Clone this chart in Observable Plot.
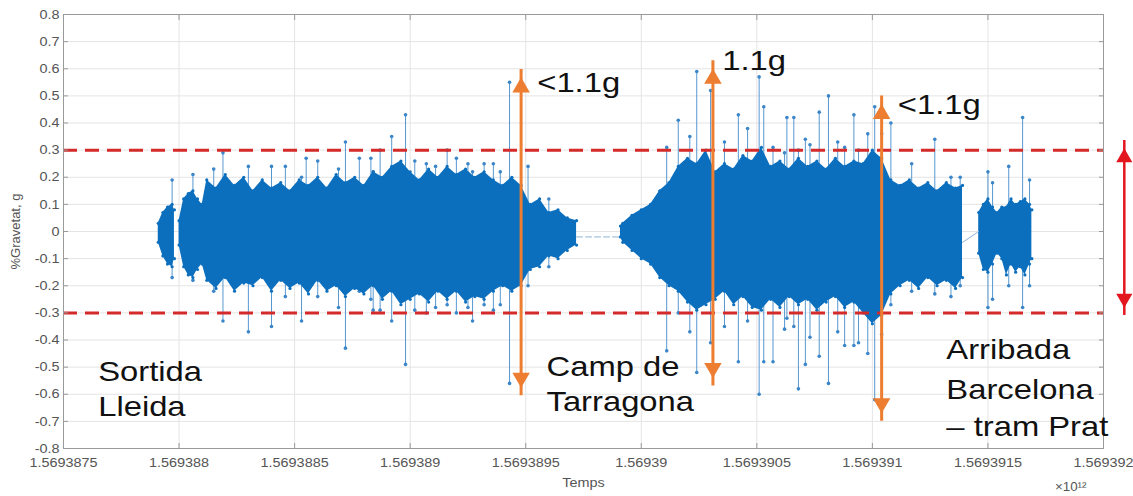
<!DOCTYPE html>
<html><head><meta charset="utf-8">
<script src="https://cdn.jsdelivr.net/npm/d3@7"></script>
<script src="https://cdn.jsdelivr.net/npm/@observablehq/plot@0.6"></script>
<style>
html,body{margin:0;padding:0;background:#fff;}
#chart svg{display:block;}
</style></head><body><div id="chart"></div>
<script>
// ---- axis ticks ----
const xTicks = [1.5693875, 1.569388, 1.5693885, 1.569389, 1.5693895, 1.56939, 1.5693905, 1.569391, 1.5693915, 1.569392];
const xTickLabels = ["1.5693875", "1.569388", "1.5693885", "1.569389", "1.5693895", "1.56939", "1.5693905", "1.569391", "1.5693915", "1.569392"];
const yTicks = [-0.8, -0.7, -0.6, -0.5, -0.4, -0.3, -0.2, -0.1, 0, 0.1, 0.2, 0.3, 0.4, 0.5, 0.6, 0.7, 0.8];
const yTickLabels = ["-0.8", "-0.7", "-0.6", "-0.5", "-0.4", "-0.3", "-0.2", "-0.1", "0", "0.1", "0.2", "0.3", "0.4", "0.5", "0.6", "0.7", "0.8"];

// ---- signal envelope (dense body), time in x10^12 ms ----
const seg1Time = [1.56938791, 1.56938793, 1.56938795, 1.56938797, 1.56938798];
const seg1High = [0.03, 0.07, 0.09, 0.10, 0.08];
const seg1Low  = [-0.04, -0.09, -0.12, -0.13, -0.10];

const seg2Time = [1.56938800, 1.56938802, 1.56938804, 1.56938806, 1.56938808, 1.56938810, 1.56938812,
  1.56938816, 1.56938820, 1.56938824, 1.56938828, 1.56938832, 1.56938836, 1.56938840, 1.56938844, 1.56938848, 1.56938852,
  1.56938856, 1.56938860, 1.56938864, 1.56938868, 1.56938872, 1.56938876, 1.56938880, 1.56938884, 1.56938888, 1.56938892,
  1.56938896, 1.56938900, 1.56938904, 1.56938908, 1.56938912, 1.56938916, 1.56938920, 1.56938924, 1.56938928, 1.56938932,
  1.56938936, 1.56938940, 1.56938944, 1.56938948, 1.56938952, 1.56938956, 1.56938960, 1.56938964, 1.56938968, 1.56938972];
const seg2High = [0.04, 0.12, 0.14, 0.15, 0.12, 0.10, 0.19,
  0.16, 0.21, 0.17, 0.20, 0.15, 0.19, 0.16, 0.18, 0.15, 0.19,
  0.17, 0.20, 0.16, 0.21, 0.18, 0.20, 0.17, 0.22, 0.20, 0.24,
  0.26, 0.22, 0.19, 0.23, 0.20, 0.24, 0.21, 0.23, 0.20, 0.22,
  0.19, 0.17, 0.20, 0.17, 0.10, 0.12, 0.07, 0.08, 0.05, 0.04];
const seg2Low = [-0.05, -0.13, -0.16, -0.17, -0.14, -0.12, -0.18,
  -0.21, -0.17, -0.22, -0.19, -0.20, -0.17, -0.22, -0.18, -0.21, -0.19,
  -0.23, -0.18, -0.22, -0.20, -0.24, -0.21, -0.23, -0.20, -0.25, -0.22,
  -0.27, -0.25, -0.23, -0.26, -0.22, -0.25, -0.22, -0.26, -0.24, -0.25,
  -0.22, -0.20, -0.22, -0.20, -0.14, -0.13, -0.09, -0.10, -0.07, -0.05];

const seg3Time = [1.56938991, 1.56938992, 1.56938996, 1.56939000, 1.56939004, 1.56939008, 1.56939012, 1.56939016, 1.56939020,
  1.56939024, 1.56939028, 1.56939032, 1.56939036, 1.56939040, 1.56939044, 1.56939048, 1.56939052, 1.56939056, 1.56939060,
  1.56939064, 1.56939068, 1.56939072, 1.56939076, 1.56939080, 1.56939084, 1.56939088, 1.56939092, 1.56939096, 1.56939100,
  1.56939104, 1.56939108, 1.56939112, 1.56939116, 1.56939120, 1.56939124, 1.56939128, 1.56939132, 1.56939136, 1.56939139];
const seg3High = [0.02, 0.03, 0.06, 0.08, 0.10, 0.15, 0.18, 0.24, 0.27,
  0.25, 0.30, 0.22, 0.25, 0.23, 0.28, 0.26, 0.31, 0.24, 0.26,
  0.23, 0.27, 0.24, 0.26, 0.23, 0.27, 0.24, 0.26, 0.25, 0.30,
  0.27, 0.19, 0.17, 0.19, 0.16, 0.18, 0.15, 0.18, 0.16, 0.17];
const seg3Low = [-0.02, -0.04, -0.07, -0.10, -0.12, -0.17, -0.20, -0.22, -0.26,
  -0.29, -0.27, -0.25, -0.22, -0.27, -0.24, -0.28, -0.29, -0.25, -0.28,
  -0.24, -0.27, -0.25, -0.29, -0.26, -0.24, -0.28, -0.26, -0.30, -0.34,
  -0.31, -0.23, -0.20, -0.18, -0.21, -0.17, -0.20, -0.18, -0.21, -0.17];

const seg4Time = [1.56939146, 1.56939148, 1.56939150, 1.56939152, 1.56939154, 1.56939156, 1.56939158,
  1.56939160, 1.56939162, 1.56939164, 1.56939166, 1.56939168, 1.56939169];
const seg4High = [0.07, 0.10, 0.12, 0.09, 0.07, 0.09, 0.09, 0.12, 0.10, 0.11, 0.12, 0.10, 0.08];
const seg4Low  = [-0.08, -0.14, -0.15, -0.12, -0.08, -0.10, -0.16, -0.12, -0.15, -0.13, -0.16, -0.12, -0.10];

// ---- connecting segments across data gaps ----
const bridge1Time = [1.56938972, 1.56938991];
const bridge1Value = [-0.02, -0.02];
const bridge2Time = [1.56939139, 1.56939146];
const bridge2Value = [-0.04, 0.0];

// ---- isolated peaks (max / min) ----
const spikeTime = [1.56938797, 1.56938806, 1.56938815, 1.56938819, 1.56938830, 1.56938840, 1.56938846, 1.56938853, 1.56938855,
  1.56938860, 1.56938869, 1.56938872, 1.56938878, 1.56938883, 1.56938884, 1.56938887, 1.56938892, 1.56938898, 1.56938902,
  1.56938907, 1.56938911, 1.56938916, 1.56938920, 1.56938925, 1.56938927, 1.56938932, 1.56938936, 1.56938939, 1.56938943,
  1.56938951, 1.56938960,
  1.56939011, 1.56939016, 1.56939021, 1.56939024, 1.56939030, 1.56939036, 1.56939042, 1.56939046, 1.56939051, 1.56939053,
  1.56939057, 1.56939062, 1.56939063, 1.56939066, 1.56939068, 1.56939071, 1.56939073, 1.56939077, 1.56939081, 1.56939085,
  1.56939088, 1.56939092, 1.56939094, 1.56939098, 1.56939101, 1.56939104, 1.56939108, 1.56939117, 1.56939127, 1.56939134,
  1.56939138,
  1.56939150, 1.56939152, 1.56939159, 1.56939165, 1.56939168];
const spikeHigh = [0.19, 0.21, 0.23, 0.29, 0.24, 0.24, 0.24, 0.20, 0.27,
  0.26, 0.23, 0.33, 0.27, 0.27, 0.22, 0.30, 0.35, 0.43, 0.26,
  0.25, 0.24, 0.30, 0.27, 0.25, 0.22, 0.25, 0.25, 0.22, 0.55,
  0.24, 0.12,
  0.31, 0.41, 0.35, 0.59, 0.52, 0.33, 0.43, 0.38, 0.57, 0.46,
  0.31, 0.29, 0.42, 0.42, 0.30, 0.34, 0.32, 0.44, 0.50, 0.33,
  0.31, 0.43, 0.30, 0.36, 0.46, 0.36, 0.40, 0.25, 0.34, 0.20,
  0.20,
  0.22, 0.18, 0.24, 0.42, 0.19];
const spikeLow = [-0.17, -0.18, -0.22, -0.33, -0.37, -0.35, -0.24, -0.33, -0.20,
  -0.24, -0.28, -0.43, -0.22, -0.25, -0.29, -0.29, -0.33, -0.49, -0.29,
  -0.30, -0.28, -0.27, -0.30, -0.28, -0.33, -0.27, -0.29, -0.27, -0.56,
  -0.20, -0.13,
  -0.44, -0.30, -0.37, -0.52, -0.41, -0.35, -0.48, -0.33, -0.60, -0.48,
  -0.48, -0.36, -0.32, -0.35, -0.58, -0.49, -0.39, -0.46, -0.56, -0.37,
  -0.42, -0.42, -0.41, -0.45, -0.62, -0.38, -0.27, -0.22, -0.23, -0.24,
  -0.20,
  -0.28, -0.25, -0.20, -0.28, -0.20];

// ---- annotations ----
const limitValues = [0.3, -0.3];
const arrowTime = [1.56938948, 1.56939031, 1.56939104];
const arrowTop = [0.568, 0.60, 0.47];
const arrowBottom = [-0.576, -0.54, -0.67];
const rangeArrowTime = [1.56939209];
const rangeArrowTop = [0.306];
const rangeArrowBottom = [-0.28];
const annoText = ["<1.1g", "1.1g", "<1.1g", "Sortida", "Lleida", "Camp de", "Tarragona", "Arribada", "Barcelona", "– tram Prat"];
const annoTime = [1.56938955, 1.56939035, 1.56939111, 1.56938765, 1.56938765, 1.56938959, 1.56938959, 1.56939132, 1.56939132, 1.56939132];
const annoY = [0.513, 0.594, 0.432, -0.550, -0.679, -0.531, -0.661, -0.469, -0.616, -0.753];
const exponentText = ["×10¹²"];
const exponentTime = [1.56939179];
const exponentY = [-0.955];

const blue = "#0b6fbe";
const spikeBlue = "#3a86c8";
const orange = "#ED7D31";
const red = "#e3161e";
const dashRed = "#d42a2a";

function body(T, H, L) {
  return [
    Plot.areaY(T, {x: T, y1: L, y2: H, fill: blue}),
    Plot.dot(T, {x: T, y: H, r: 1.6, fill: blue}),
    Plot.dot(T, {x: T, y: L, r: 1.6, fill: blue})
  ];
}

const chart = Plot.plot({
  width: 1133,
  height: 496,
  marginLeft: 63,
  marginRight: 30,
  marginTop: 14,
  marginBottom: 48,
  style: {fontFamily: "'Liberation Sans', Arial, sans-serif", fontSize: "13px", color: "#555", background: "#fff"},
  x: {domain: [xTicks[0], xTicks[xTicks.length - 1]]},
  y: {domain: [-0.8, 0.8]},
  marks: [
    Plot.gridX({ticks: xTicks, stroke: "#e4e4e4", strokeOpacity: 1}),
    Plot.gridY({ticks: yTicks, stroke: "#e4e4e4", strokeOpacity: 1}),
    Plot.ruleX(spikeTime, {x: spikeTime, y1: spikeLow, y2: spikeHigh, stroke: spikeBlue, strokeWidth: 1, strokeOpacity: 0.85}),
    Plot.dot(spikeTime, {x: spikeTime, y: spikeHigh, r: 1.8, fill: spikeBlue}),
    Plot.dot(spikeTime, {x: spikeTime, y: spikeLow, r: 1.8, fill: spikeBlue}),
    ...body(seg1Time, seg1High, seg1Low),
    ...body(seg2Time, seg2High, seg2Low),
    ...body(seg3Time, seg3High, seg3Low),
    ...body(seg4Time, seg4High, seg4Low),
    Plot.line(bridge1Time, {x: bridge1Time, y: bridge1Value, stroke: "#8fb4d8", strokeWidth: 1, strokeDasharray: "6,3"}),
    Plot.line(bridge2Time, {x: bridge2Time, y: bridge2Value, stroke: "#8fb4d8", strokeWidth: 1}),
    Plot.ruleY(limitValues, {stroke: dashRed, strokeWidth: 3, strokeDasharray: "14,8"}),
    Plot.frame({stroke: "#9a9a9a"}),
    Plot.axisX({ticks: xTicks, anchor: "bottom", tickSize: -5, tickPadding: 14, stroke: "#9a9a9a", className: "ticklab",
      tickFormat: d => xTickLabels[xTicks.indexOf(d)], label: "Temps", labelAnchor: "center", labelOffset: 38, labelArrow: "none"}),
    Plot.axisX({ticks: xTicks, anchor: "top", tickSize: -5, stroke: "#9a9a9a", tickFormat: () => "", label: null}),
    Plot.axisY({ticks: yTicks, anchor: "left", tickSize: -5, tickPadding: 9, stroke: "#9a9a9a", className: "ticklab",
      tickFormat: d => yTickLabels[yTicks.indexOf(d)], label: "%Gravetat, g", labelAnchor: "center", labelOffset: 53, labelArrow: "none"}),
    Plot.axisY({ticks: yTicks, anchor: "right", tickSize: -5, stroke: "#9a9a9a", tickFormat: () => "", label: null}),
    Plot.text(exponentText, {x: exponentTime, y: exponentY, text: exponentText, textAnchor: "start", lineAnchor: "bottom", fontSize: 12, fill: "#555"}),
    // orange arrows
    Plot.ruleX(arrowTime, {x: arrowTime, y1: arrowBottom, y2: arrowTop, stroke: orange, strokeWidth: 3, insetTop: 8, insetBottom: 8}),
    Plot.dot(arrowTime, {x: arrowTime, y: arrowTop, symbol: "triangle", r: 6.5, fill: orange, dy: 10}),
    Plot.dot(arrowTime, {x: arrowTime, y: arrowBottom, symbol: "triangle", r: 6.5, fill: orange, rotate: 180, dy: -10}),
    // red range arrow
    Plot.ruleX(rangeArrowTime, {x: rangeArrowTime, y1: rangeArrowBottom, y2: rangeArrowTop, stroke: red, strokeWidth: 2.5, insetTop: 8, insetBottom: 8}),
    Plot.dot(rangeArrowTime, {x: rangeArrowTime, y: rangeArrowTop, symbol: "triangle", r: 6, fill: red, dy: 9}),
    Plot.dot(rangeArrowTime, {x: rangeArrowTime, y: rangeArrowBottom, symbol: "triangle", r: 6, fill: red, rotate: 180, dy: -9}),
    Plot.text(annoText, {x: annoTime, y: annoY, text: annoText, textAnchor: "start", lineAnchor: "bottom", fontSize: 28, fill: "#111", className: "anno"})
  ]
});

// the reference is horizontally stretched: widen horizontal texts
chart.querySelectorAll("text").forEach(t => {
  const tr = t.getAttribute("transform");
  if (!tr || tr.includes("rotate")) return;
  const inAnno = t.closest(".anno");
  t.setAttribute("transform", tr + (inAnno ? " scale(1.17,1)" : " scale(1.11,1)"));
});

document.getElementById("chart").appendChild(chart);
</script></body></html>
